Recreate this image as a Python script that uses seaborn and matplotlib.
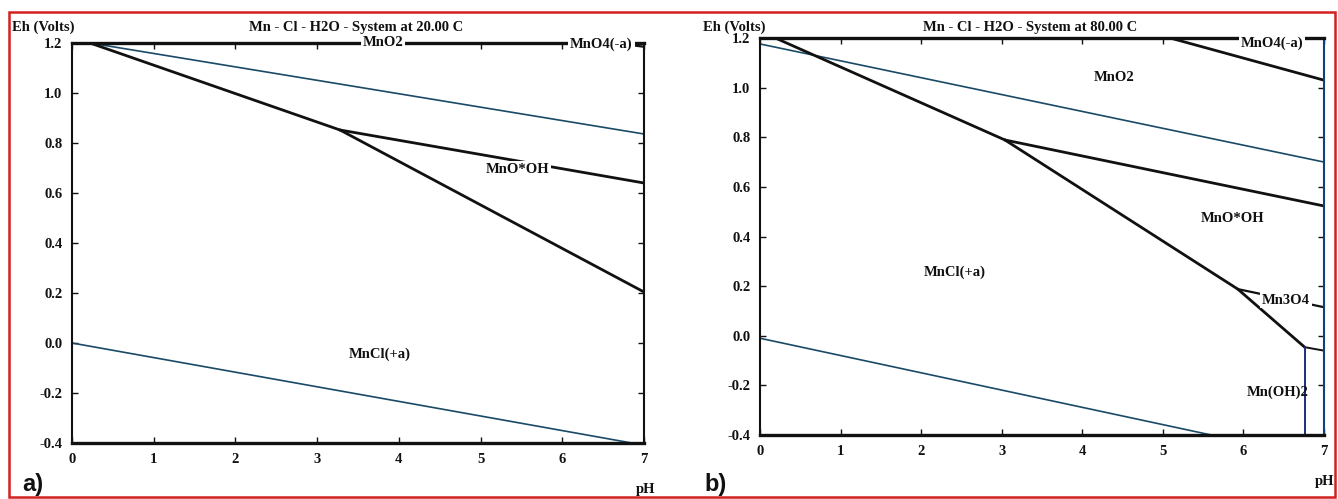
import matplotlib
matplotlib.use("Agg")
import matplotlib.pyplot as plt
from matplotlib.patches import Rectangle
import seaborn as sns

# ---------------- data (pH, Eh) ----------------
PH_TICKS = [0, 1, 2, 3, 4, 5, 6, 7]
EH_TICKS = [-0.4, -0.2, 0.0, 0.2, 0.4, 0.6, 0.8, 1.0, 1.2]

# panel a) 20 C
A_CL_MNO2_PH = [0.22, 3.28]
A_CL_MNO2_EH = [1.2, 0.852]
A_CL_MNOOH_PH = [3.28, 7.0]
A_CL_MNOOH_EH = [0.852, 0.204]
A_MNO2_MNOOH_PH = [3.28, 7.0]
A_MNO2_MNOOH_EH = [0.852, 0.64]
A_MNO2_MNO4_PH = [6.88, 7.0]
A_MNO2_MNO4_EH = [1.19, 1.185]
A_O2_PH = [0.22, 7.0]
A_O2_EH = [1.2, 0.836]
A_H2_PH = [0.0, 6.85]
A_H2_EH = [0.0, -0.4]

# panel b) 80 C
B_CL_MNO2_PH = [0.19, 3.04]
B_CL_MNO2_EH = [1.2, 0.789]
B_MNO2_MNOOH_PH = [3.04, 7.0]
B_MNO2_MNOOH_EH = [0.789, 0.523]
B_CL_MNOOH_PH = [3.04, 5.93]
B_CL_MNOOH_EH = [0.789, 0.188]
B_MNOOH_MN3O4_PH = [5.93, 7.0]
B_MNOOH_MN3O4_EH = [0.188, 0.115]
B_CL_MN3O4_PH = [5.93, 6.76]
B_CL_MN3O4_EH = [0.188, -0.046]
B_MN3O4_MNOH2_PH = [6.76, 7.0]
B_MN3O4_MNOH2_EH = [-0.046, -0.06]
B_CL_MNOH2_PH = [6.76, 6.76]
B_CL_MNOH2_EH = [-0.046, -0.4]
B_MNO2_MNO4_PH = [5.09, 7.0]
B_MNO2_MNO4_EH = [1.2, 1.03]
B_O2_PH = [0.0, 7.0]
B_O2_EH = [1.176, 0.70]
B_H2_PH = [0.0, 5.6]
B_H2_EH = [-0.01, -0.4]

# labels: (text, pH, Eh, white background)
A_LABELS = [("MnO2", 3.81, 1.2, True), ("MnO4(-a)", 6.48, 1.195, True),
            ("MnO*OH", 5.45, 0.695, True), ("MnCl(+a)", 3.77, -0.044, True)]
B_LABELS = [("MnO4(-a)", 6.35, 1.18, True), ("MnO2", 4.40, 1.04, True),
            ("MnO*OH", 5.86, 0.474, True), ("MnCl(+a)", 2.42, 0.256, True),
            ("Mn3O4", 6.53, 0.144, True), ("Mn(OH)2", 6.42, -0.227, False)]

TITLE_A = "Mn - Cl - H2O - System at 20.00 C"
TITLE_B = "Mn - Cl - H2O - System at 80.00 C"

# ---------------- style ----------------
sns.set_theme(style="white")
plt.rcParams["font.family"] = ["Liberation Serif", "DejaVu Serif"]
plt.rcParams["font.weight"] = "bold"
plt.rcParams["axes.unicode_minus"] = False

BLACK = "#111111"
TEAL = "#1a4a66"
NAVY = "#1a2f80"
FS = 10.5

fig = plt.figure(figsize=(13.38, 4.99), dpi=100)
axA = fig.add_axes([72 / 1338, 56 / 499, 572 / 1338, 400 / 499])
axB = fig.add_axes([760 / 1338, 64 / 499, 564 / 1338, 397 / 499])


def seg(ax, ph, eh, color, lw):
    sns.lineplot(x=ph, y=eh, ax=ax, color=color, lw=lw, sort=False,
                 estimator=None, legend=False)


def style_ax(ax):
    ax.set_xlim(0, 7)
    ax.set_ylim(-0.4, 1.2)
    ax.set_xticks(PH_TICKS)
    ax.set_yticks(EH_TICKS)
    ax.set_xticklabels([str(t) for t in PH_TICKS])
    ax.set_yticklabels([f"{t:.1f}" for t in EH_TICKS])
    ax.tick_params(axis="both", direction="in", length=4, width=1,
                   bottom=True, left=True, top=True, right=True,
                   labelsize=FS, colors=BLACK)
    ax.tick_params(axis="x", pad=7)
    ax.tick_params(axis="y", pad=7)
    for lab in ax.get_xticklabels() + ax.get_yticklabels():
        lab.set_fontweight("bold")
    ax.set_xlabel("")
    ax.set_ylabel("")
    for side in ["top", "bottom"]:
        ax.spines[side].set_linewidth(2.4)
        ax.spines[side].set_color(BLACK)
    for side in ["left", "right"]:
        ax.spines[side].set_linewidth(1.5)
        ax.spines[side].set_color(BLACK)
    ax.set_facecolor("white")


def put_labels(ax, labels):
    for txt, x, y, boxed in labels:
        kw = {}
        if boxed:
            kw["bbox"] = dict(boxstyle="square,pad=0.12", fc="white", ec="none")
        ax.text(x, y, txt, ha="center", va="center", fontsize=FS,
                fontweight="bold", color=BLACK, zorder=5, **kw)


# panel a
seg(axA, A_O2_PH, A_O2_EH, TEAL, 1.2)
seg(axA, A_H2_PH, A_H2_EH, TEAL, 1.2)
seg(axA, A_CL_MNO2_PH, A_CL_MNO2_EH, BLACK, 2.0)
seg(axA, A_CL_MNOOH_PH, A_CL_MNOOH_EH, BLACK, 2.0)
seg(axA, A_MNO2_MNOOH_PH, A_MNO2_MNOOH_EH, BLACK, 2.0)
seg(axA, A_MNO2_MNO4_PH, A_MNO2_MNO4_EH, BLACK, 1.6)
style_ax(axA)
put_labels(axA, A_LABELS)

# panel b
seg(axB, B_O2_PH, B_O2_EH, TEAL, 1.2)
seg(axB, B_H2_PH, B_H2_EH, TEAL, 1.2)
seg(axB, B_CL_MNO2_PH, B_CL_MNO2_EH, BLACK, 2.0)
seg(axB, B_MNO2_MNOOH_PH, B_MNO2_MNOOH_EH, BLACK, 2.0)
seg(axB, B_CL_MNOOH_PH, B_CL_MNOOH_EH, BLACK, 2.0)
seg(axB, B_MNOOH_MN3O4_PH, B_MNOOH_MN3O4_EH, BLACK, 1.6)
seg(axB, B_CL_MN3O4_PH, B_CL_MN3O4_EH, BLACK, 2.0)
seg(axB, B_MN3O4_MNOH2_PH, B_MN3O4_MNOH2_EH, BLACK, 1.4)
seg(axB, B_CL_MNOH2_PH, B_CL_MNOH2_EH, NAVY, 1.4)
seg(axB, B_MNO2_MNO4_PH, B_MNO2_MNO4_EH, BLACK, 2.0)
style_ax(axB)
axB.spines["right"].set_color("#14407a")
put_labels(axB, B_LABELS)

# header / footer texts
hdr_y = 1 - 27 / 499
fig.text(12 / 1338, hdr_y, "Eh (Volts)", ha="left", va="center",
         fontsize=FS, fontweight="bold", color=BLACK)
fig.text(356 / 1338, hdr_y, TITLE_A, ha="center", va="center",
         fontsize=FS, fontweight="bold", color=BLACK)
fig.text(703 / 1338, hdr_y, "Eh (Volts)", ha="left", va="center",
         fontsize=FS, fontweight="bold", color=BLACK)
fig.text(1030 / 1338, hdr_y, TITLE_B, ha="center", va="center",
         fontsize=FS, fontweight="bold", color=BLACK)
fig.text(646 / 1338, 1 - 490 / 499, "pH", ha="center", va="center",
         fontsize=FS, fontweight="bold", color=BLACK)
fig.text(1325 / 1338, 1 - 481 / 499, "pH", ha="center", va="center",
         fontsize=FS, fontweight="bold", color=BLACK)
fig.text(33 / 1338, 1 - 485 / 499, "a)", ha="center", va="center",
         fontsize=17, fontweight="bold", color=BLACK,
         family=["Liberation Sans Narrow", "Liberation Sans", "DejaVu Sans"])
fig.text(716 / 1338, 1 - 485 / 499, "b)", ha="center", va="center",
         fontsize=17, fontweight="bold", color=BLACK,
         family=["Liberation Sans Narrow", "Liberation Sans", "DejaVu Sans"])

# red frame around the figure
fig.patches.append(Rectangle((9 / 1338, 2 / 499), 1326 / 1338, 485 / 499,
                             transform=fig.transFigure, fill=False,
                             ec="#d42020", lw=1.8))

fig.savefig("out.png", dpi=100, facecolor="white")
